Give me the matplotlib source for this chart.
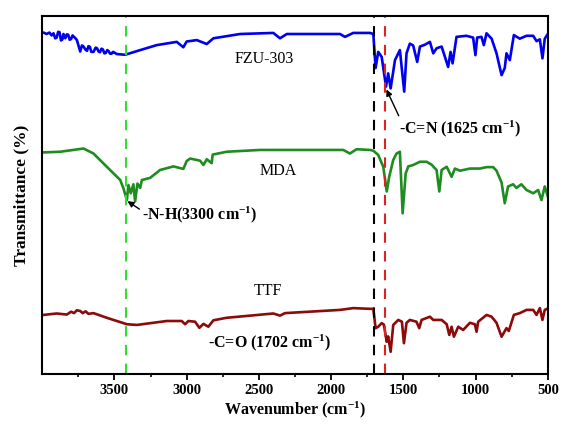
import numpy as np
import matplotlib.pyplot as plt

plt.rcParams['font.family'] = ['Liberation Serif', 'DejaVu Serif']
plt.rcParams['mathtext.fontset'] = 'custom'
plt.rcParams['mathtext.rm'] = 'Liberation Serif'
plt.rcParams['mathtext.bf'] = 'Liberation Serif:bold'

# FZU-303 (blue)
fzu_wn = [4000, 3991, 3970, 3950, 3935, 3922, 3910, 3900, 3890, 3880, 3870, 3860, 3853, 3840,
          3830, 3820, 3810, 3800, 3790, 3780, 3770, 3760, 3737, 3725, 3714, 3700, 3690, 3680,
          3670, 3660, 3645, 3630, 3620, 3610, 3600, 3590, 3580, 3570, 3560, 3550, 3540, 3530,
          3520, 3510, 3500, 3484, 3426, 3322,
          3207, 3069, 3023, 3000, 2930, 2861, 2815, 2630, 2400, 2354, 2307, 1939, 1904, 1847,
          1731, 1708, 1692, 1674, 1650, 1620, 1605, 1588, 1558, 1524, 1494, 1478, 1455, 1432,
          1404, 1385, 1351, 1316, 1293, 1270, 1235, 1190, 1173, 1159, 1132, 1063, 1017, 1001,
          989, 959, 943, 924, 889, 855, 820, 798, 786, 763, 735, 694, 647, 601, 578, 555, 537,
          521, 500]
fzu_t = [95.3, 95.4, 95.0, 95.4, 94.6, 95.2, 93.8, 94.0, 95.6, 95.5, 93.2, 93.5, 95.0, 93.8,
         94.9, 94.8, 93.4, 93.6, 94.6, 94.2, 93.8, 93.3, 90.1, 91.8, 91.5, 90.6, 90.3, 91.6,
         91.4, 90.0, 90.0, 91.2, 91.0, 90.1, 89.9, 90.9, 90.7, 89.6, 89.7, 90.5, 90.2, 89.5,
         89.5, 90.0, 89.8, 89.4, 89.2, 90.5,
         91.9, 92.8, 91.3, 92.9, 93.3, 92.2, 93.8, 95.0, 95.3, 93.8, 95.0, 95.0, 94.2, 95.3,
         95.3, 95.0, 85.5, 90.0, 88.6, 80.3, 84.0, 79.8, 87.7, 90.5, 78.9, 89.6, 92.3, 91.8,
         87.2, 91.5, 92.0, 92.8, 89.6, 91.0, 91.5, 85.8, 90.0, 86.8, 94.2, 94.5, 94.0, 89.1,
         94.0, 94.2, 91.9, 95.2, 93.7, 89.6, 83.5, 85.5, 89.6, 87.7, 94.7, 93.7, 94.5, 94.5,
         93.0, 93.5, 88.2, 93.7, 95.0]

# MDA (green)
mda_wn = [4000, 3875, 3714, 3645, 3553, 3460, 3438, 3414, 3403, 3387, 3369, 3357, 3341, 3322,
          3310, 3253, 3184, 3092, 3023, 3000, 2976, 2907, 2884, 2861, 2827, 2820, 2723, 2492,
          1916, 1870, 1824, 1731, 1708, 1674, 1639, 1615, 1598, 1570, 1547, 1524, 1505, 1484,
          1466, 1432, 1385, 1339, 1305, 1270, 1251, 1235, 1200, 1166, 1143, 1108, 1039, 970,
          924, 878, 855, 820, 798, 775, 740, 717, 683, 647, 601, 567, 544, 521, 500]
mda_t = [61.9, 62.1, 63.0, 61.6, 57.9, 54.2, 51.9, 48.6, 52.8, 50.5, 53.0, 48.2, 53.2, 52.0,
         54.2, 54.8, 57.0, 58.0, 57.3, 59.5, 60.2, 59.6, 58.4, 60.0, 58.9, 61.3, 62.1, 62.6,
         62.6, 61.6, 62.8, 62.6, 62.4, 61.2, 57.9, 51.0, 55.1, 59.8, 61.6, 62.1, 44.9, 56.0,
         58.0, 58.4, 59.3, 59.3, 58.5, 57.0, 51.0, 57.0, 57.9, 55.1, 57.4, 56.8, 57.4, 57.4,
         57.8, 57.8, 56.8, 53.5, 47.7, 52.4, 53.0, 52.0, 53.0, 51.4, 50.5, 51.4, 48.6, 52.4,
         49.6]

# TTF (dark red)
ttf_wn = [4000, 3991, 3900, 3830, 3800, 3780, 3760, 3737, 3720, 3700, 3680, 3645, 3553, 3414,
          3345, 3138, 3034, 3011, 2988, 2942, 2912, 2884, 2850, 2815, 2723, 2400, 2354, 2320,
          1939, 1847, 1731, 1708, 1692, 1674, 1650, 1635, 1615, 1605, 1588, 1570, 1535, 1510,
          1496, 1478, 1455, 1409, 1390, 1374, 1316, 1293, 1235, 1200, 1182, 1166, 1150, 1120,
          1086, 1039, 1005, 993, 982, 924, 889, 855, 820, 786, 770, 735, 694, 647, 601, 578,
          555, 537, 521, 500]
ttf_t = [16.5, 16.5, 16.9, 16.6, 17.4, 17.0, 17.8, 17.6, 17.0, 17.5, 16.8, 17.0, 15.7, 13.9,
         13.7, 14.8, 14.8, 13.9, 14.8, 14.6, 12.9, 14.0, 13.2, 15.0, 15.7, 16.9, 16.3, 17.0,
         17.9, 18.4, 18.2, 18.2, 12.8, 13.2, 14.2, 13.8, 9.0, 10.5, 6.2, 13.7, 15.1, 14.6,
         8.6, 14.3, 15.1, 14.6, 12.8, 15.1, 16.0, 15.1, 15.1, 13.9, 10.9, 13.2, 10.4, 13.2,
         12.3, 14.3, 13.9, 11.8, 14.6, 16.5, 16.0, 14.3, 10.4, 12.8, 12.0, 16.5, 17.0, 17.9,
         17.9, 16.5, 18.4, 15.1, 17.9, 18.3]

peak_lines = [3420, 1702, 1625]
peak_colors = ['#33dd33', 'black', '#dd2222']

fig = plt.figure(figsize=(5.63, 4.24), dpi=100)
ax = fig.add_axes([0.075, 0.118, 0.898, 0.844])

ax.plot(fzu_wn, fzu_t, color='#0000ee', lw=1.9)
ax.plot(mda_wn, mda_t, color='#1e8c1e', lw=1.9)
ax.plot(ttf_wn, ttf_t, color='#8b0a0a', lw=1.9)

for xv, c in zip(peak_lines, peak_colors):
    ax.axvline(xv, color=c, lw=1.5, ls=(0, (5, 4)))

ax.text(2464, 88, 'FZU-303', fontsize=11.5, ha='center', va='center')
ax.text(2365, 56.8, 'MDA', fontsize=11.5, ha='center', va='center')
ax.text(2439, 23.1, 'TTF', fontsize=11.5, ha='center', va='center')

ax.annotate(r'-C=N (1625 cm$\mathbf{^{-1}}$)', xy=(1617, 79.5), xytext=(1106, 68.5),
            fontsize=11.5, fontweight='bold', ha='center', va='center',
            arrowprops=dict(arrowstyle='-|>', color='black', lw=1, mutation_scale=9,
                            shrinkA=0, shrinkB=0, relpos=(0.02, 0.85)))
ax.annotate(r'-N-H(3300 cm$\mathbf{^{-1}}$)', xy=(3410, 48.3), xytext=(2908, 44.4),
            fontsize=11.5, fontweight='bold', ha='center', va='center',
            arrowprops=dict(arrowstyle='-|>', color='black', lw=1, mutation_scale=9,
                            shrinkA=0, shrinkB=0, relpos=(0, 0.7)))
ax.text(2427, 8.8, r'-C=O (1702 cm$\mathbf{^{-1}}$)', fontsize=11.5, fontweight='bold',
        ha='center', va='center')

ax.set_xlim(4000, 500)
ax.set_ylim(0, 100)
ax.set_xticks([3500, 3000, 2500, 2000, 1500, 1000, 500])
ax.set_xticks(np.arange(3750, 500, -500), minor=True)
ax.set_yticks([])
ax.tick_params(axis='x', which='major', direction='out', length=4, width=1.3,
               labelsize=10.5, pad=3)
ax.tick_params(axis='x', which='minor', direction='out', length=2.5, width=1.2)
for lab in ax.get_xticklabels():
    lab.set_fontweight('bold')
for sp in ax.spines.values():
    sp.set_linewidth(1.5)

ax.set_xlabel(r'Wavenumber (cm$\mathbf{^{-1}}$)', fontsize=11.5, fontweight='bold', labelpad=2)
ax.set_ylabel('Transmittance (%)', fontsize=12.5, fontweight='bold', labelpad=9)

fig.savefig('out.png', dpi=100)
